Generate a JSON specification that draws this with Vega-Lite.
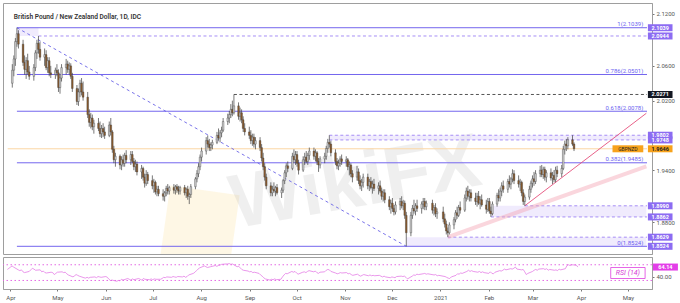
{
"$schema":"https://vega.github.io/schema/vega-lite/v6.json",
"padding":{"left":2,"top":2,"right":0,"bottom":0},
"background":"white",
"spacing":3,
"bounds":"flush",
"config":{"concat":{"spacing":3},"view":{"stroke":"#9e9e9e","strokeWidth":1},"font":"Roboto","axis":{"grid":false,"labelFont":"Roboto","labelFontSize":6,"labelColor":"#555","tickColor":"#777","tickSize":2,"domainColor":"#9e9e9e","labelPadding":2,"labelOverlap":false}},
"resolve":{"scale":{"x":"independent","y":"independent"}},
"datasets":{
"px":[
{"d":"2020-03-30","o":2.040,"h":2.062,"l":2.035,"c":2.055,"r":58},
{"d":"2020-03-31","o":2.055,"h":2.072,"l":2.048,"c":2.068,"r":61},
{"d":"2020-04-01","o":2.068,"h":2.092,"l":2.060,"c":2.088,"r":64},
{"d":"2020-04-02","o":2.088,"h":2.1039,"l":2.082,"c":2.097,"r":67},
{"d":"2020-04-03","o":2.097,"h":2.101,"l":2.080,"c":2.085,"r":64},
{"d":"2020-04-06","o":2.085,"h":2.090,"l":2.060,"c":2.064,"r":57},
{"d":"2020-04-07","o":2.064,"h":2.072,"l":2.050,"c":2.056,"r":55},
{"d":"2020-04-08","o":2.056,"h":2.070,"l":2.045,"c":2.066,"r":57},
{"d":"2020-04-09","o":2.066,"h":2.074,"l":2.050,"c":2.053,"r":52},
{"d":"2020-04-10","o":2.053,"h":2.060,"l":2.044,"c":2.048,"r":50},
{"d":"2020-04-13","o":2.048,"h":2.062,"l":2.043,"c":2.058,"r":53},
{"d":"2020-04-14","o":2.058,"h":2.078,"l":2.054,"c":2.075,"r":57},
{"d":"2020-04-15","o":2.075,"h":2.090,"l":2.068,"c":2.086,"r":61},
{"d":"2020-04-16","o":2.086,"h":2.0944,"l":2.074,"c":2.079,"r":59},
{"d":"2020-04-17","o":2.079,"h":2.088,"l":2.066,"c":2.070,"r":56},
{"d":"2020-04-20","o":2.070,"h":2.080,"l":2.060,"c":2.073,"r":57},
{"d":"2020-04-21","o":2.073,"h":2.078,"l":2.055,"c":2.058,"r":52},
{"d":"2020-04-22","o":2.058,"h":2.070,"l":2.052,"c":2.066,"r":54},
{"d":"2020-04-23","o":2.066,"h":2.070,"l":2.048,"c":2.052,"r":50},
{"d":"2020-04-24","o":2.052,"h":2.060,"l":2.046,"c":2.050,"r":49},
{"d":"2020-04-27","o":2.050,"h":2.058,"l":2.045,"c":2.055,"r":51},
{"d":"2020-04-28","o":2.055,"h":2.062,"l":2.048,"c":2.052,"r":50},
{"d":"2020-04-29","o":2.052,"h":2.056,"l":2.030,"c":2.035,"r":45},
{"d":"2020-04-30","o":2.035,"h":2.050,"l":2.028,"c":2.046,"r":48},
{"d":"2020-05-01","o":2.046,"h":2.062,"l":2.042,"c":2.058,"r":51},
{"d":"2020-05-04","o":2.058,"h":2.068,"l":2.050,"c":2.062,"r":52},
{"d":"2020-05-05","o":2.062,"h":2.066,"l":2.052,"c":2.056,"r":50},
{"d":"2020-05-06","o":2.056,"h":2.064,"l":2.050,"c":2.060,"r":51},
{"d":"2020-05-07","o":2.060,"h":2.063,"l":2.045,"c":2.048,"r":47},
{"d":"2020-05-08","o":2.048,"h":2.052,"l":2.030,"c":2.034,"r":44},
{"d":"2020-05-11","o":2.034,"h":2.038,"l":2.015,"c":2.019,"r":39},
{"d":"2020-05-12","o":2.019,"h":2.034,"l":2.014,"c":2.030,"r":42},
{"d":"2020-05-13","o":2.030,"h":2.044,"l":2.024,"c":2.040,"r":45},
{"d":"2020-05-14","o":2.040,"h":2.046,"l":2.026,"c":2.030,"r":43},
{"d":"2020-05-15","o":2.030,"h":2.042,"l":2.020,"c":2.024,"r":41},
{"d":"2020-05-18","o":2.024,"h":2.030,"l":2.000,"c":2.004,"r":37},
{"d":"2020-05-19","o":2.004,"h":2.010,"l":1.990,"c":1.995,"r":36},
{"d":"2020-05-20","o":1.995,"h":2.006,"l":1.988,"c":2.000,"r":38},
{"d":"2020-05-21","o":2.000,"h":2.004,"l":1.986,"c":1.990,"r":36},
{"d":"2020-05-22","o":1.990,"h":1.998,"l":1.982,"c":1.994,"r":38},
{"d":"2020-05-25","o":1.994,"h":2.000,"l":1.985,"c":1.988,"r":39},
{"d":"2020-05-26","o":1.988,"h":1.996,"l":1.978,"c":1.982,"r":37},
{"d":"2020-05-27","o":1.982,"h":1.992,"l":1.977,"c":1.988,"r":40},
{"d":"2020-05-28","o":1.988,"h":1.994,"l":1.978,"c":1.984,"r":39},
{"d":"2020-05-29","o":1.984,"h":1.990,"l":1.976,"c":1.980,"r":38},
{"d":"2020-06-01","o":1.980,"h":1.996,"l":1.978,"c":1.992,"r":40},
{"d":"2020-06-02","o":1.992,"h":2.000,"l":1.980,"c":1.984,"r":38},
{"d":"2020-06-03","o":1.984,"h":1.986,"l":1.960,"c":1.964,"r":33},
{"d":"2020-06-04","o":1.964,"h":1.968,"l":1.948,"c":1.952,"r":30},
{"d":"2020-06-05","o":1.952,"h":1.960,"l":1.944,"c":1.956,"r":31},
{"d":"2020-06-08","o":1.956,"h":1.958,"l":1.941,"c":1.946,"r":28},
{"d":"2020-06-09","o":1.946,"h":1.956,"l":1.940,"c":1.952,"r":30},
{"d":"2020-06-10","o":1.952,"h":1.958,"l":1.944,"c":1.948,"r":29},
{"d":"2020-06-11","o":1.948,"h":1.960,"l":1.944,"c":1.957,"r":33},
{"d":"2020-06-12","o":1.957,"h":1.963,"l":1.948,"c":1.952,"r":31},
{"d":"2020-06-15","o":1.952,"h":1.962,"l":1.946,"c":1.958,"r":35},
{"d":"2020-06-16","o":1.958,"h":1.962,"l":1.948,"c":1.950,"r":33},
{"d":"2020-06-17","o":1.950,"h":1.954,"l":1.940,"c":1.944,"r":31},
{"d":"2020-06-18","o":1.944,"h":1.952,"l":1.938,"c":1.947,"r":34},
{"d":"2020-06-19","o":1.947,"h":1.950,"l":1.934,"c":1.938,"r":32},
{"d":"2020-06-22","o":1.938,"h":1.946,"l":1.930,"c":1.942,"r":35},
{"d":"2020-06-23","o":1.942,"h":1.944,"l":1.928,"c":1.932,"r":33},
{"d":"2020-06-24","o":1.932,"h":1.936,"l":1.920,"c":1.925,"r":31},
{"d":"2020-06-25","o":1.925,"h":1.940,"l":1.922,"c":1.935,"r":35},
{"d":"2020-06-26","o":1.935,"h":1.938,"l":1.924,"c":1.928,"r":33},
{"d":"2020-06-29","o":1.928,"h":1.934,"l":1.918,"c":1.922,"r":32},
{"d":"2020-06-30","o":1.922,"h":1.930,"l":1.914,"c":1.926,"r":34},
{"d":"2020-07-01","o":1.926,"h":1.928,"l":1.912,"c":1.915,"r":32},
{"d":"2020-07-02","o":1.915,"h":1.922,"l":1.910,"c":1.918,"r":34},
{"d":"2020-07-03","o":1.918,"h":1.922,"l":1.910,"c":1.913,"r":33},
{"d":"2020-07-06","o":1.913,"h":1.918,"l":1.905,"c":1.910,"r":33},
{"d":"2020-07-07","o":1.910,"h":1.916,"l":1.904,"c":1.914,"r":35},
{"d":"2020-07-08","o":1.914,"h":1.922,"l":1.910,"c":1.919,"r":38},
{"d":"2020-07-09","o":1.919,"h":1.924,"l":1.912,"c":1.916,"r":37},
{"d":"2020-07-10","o":1.916,"h":1.922,"l":1.912,"c":1.920,"r":39},
{"d":"2020-07-13","o":1.920,"h":1.924,"l":1.913,"c":1.917,"r":38},
{"d":"2020-07-14","o":1.917,"h":1.923,"l":1.912,"c":1.921,"r":40},
{"d":"2020-07-15","o":1.921,"h":1.924,"l":1.914,"c":1.918,"r":39},
{"d":"2020-07-16","o":1.918,"h":1.922,"l":1.912,"c":1.916,"r":38},
{"d":"2020-07-17","o":1.916,"h":1.922,"l":1.912,"c":1.920,"r":40},
{"d":"2020-07-20","o":1.920,"h":1.923,"l":1.911,"c":1.914,"r":39},
{"d":"2020-07-21","o":1.914,"h":1.920,"l":1.908,"c":1.918,"r":41},
{"d":"2020-07-22","o":1.918,"h":1.922,"l":1.906,"c":1.910,"r":38},
{"d":"2020-07-23","o":1.910,"h":1.914,"l":1.901,"c":1.912,"r":40},
{"d":"2020-07-24","o":1.912,"h":1.924,"l":1.908,"c":1.921,"r":44},
{"d":"2020-07-27","o":1.921,"h":1.932,"l":1.918,"c":1.930,"r":48},
{"d":"2020-07-28","o":1.930,"h":1.940,"l":1.926,"c":1.936,"r":51},
{"d":"2020-07-29","o":1.936,"h":1.948,"l":1.932,"c":1.944,"r":55},
{"d":"2020-07-30","o":1.944,"h":1.958,"l":1.940,"c":1.955,"r":59},
{"d":"2020-07-31","o":1.955,"h":1.966,"l":1.950,"c":1.962,"r":62},
{"d":"2020-08-03","o":1.962,"h":1.978,"l":1.958,"c":1.974,"r":67},
{"d":"2020-08-04","o":1.974,"h":1.980,"l":1.966,"c":1.970,"r":65},
{"d":"2020-08-05","o":1.970,"h":1.976,"l":1.962,"c":1.966,"r":63},
{"d":"2020-08-06","o":1.966,"h":1.972,"l":1.962,"c":1.969,"r":64},
{"d":"2020-08-07","o":1.969,"h":1.975,"l":1.964,"c":1.972,"r":65},
{"d":"2020-08-10","o":1.972,"h":1.984,"l":1.970,"c":1.980,"r":68},
{"d":"2020-08-11","o":1.980,"h":1.988,"l":1.974,"c":1.977,"r":66},
{"d":"2020-08-12","o":1.977,"h":1.986,"l":1.972,"c":1.983,"r":68},
{"d":"2020-08-13","o":1.983,"h":1.990,"l":1.978,"c":1.986,"r":69},
{"d":"2020-08-14","o":1.986,"h":2.000,"l":1.984,"c":1.996,"r":71},
{"d":"2020-08-17","o":1.996,"h":2.005,"l":1.992,"c":2.000,"r":72},
{"d":"2020-08-18","o":2.000,"h":2.008,"l":1.994,"c":2.004,"r":72},
{"d":"2020-08-19","o":2.004,"h":2.016,"l":2.000,"c":2.010,"r":73},
{"d":"2020-08-20","o":2.010,"h":2.020,"l":2.002,"c":2.006,"r":71},
{"d":"2020-08-21","o":2.006,"h":2.0271,"l":2.004,"c":2.014,"r":72},
{"d":"2020-08-24","o":2.014,"h":2.018,"l":1.998,"c":2.002,"r":65},
{"d":"2020-08-25","o":2.002,"h":2.012,"l":1.996,"c":2.006,"r":66},
{"d":"2020-08-26","o":2.006,"h":2.010,"l":1.994,"c":1.998,"r":62},
{"d":"2020-08-27","o":1.998,"h":2.002,"l":1.984,"c":1.988,"r":58},
{"d":"2020-08-28","o":1.988,"h":1.994,"l":1.980,"c":1.984,"r":56},
{"d":"2020-08-31","o":1.984,"h":1.990,"l":1.976,"c":1.980,"r":54},
{"d":"2020-09-01","o":1.980,"h":1.986,"l":1.970,"c":1.974,"r":52},
{"d":"2020-09-02","o":1.974,"h":1.982,"l":1.968,"c":1.978,"r":53},
{"d":"2020-09-03","o":1.978,"h":1.982,"l":1.966,"c":1.970,"r":50},
{"d":"2020-09-04","o":1.970,"h":1.978,"l":1.964,"c":1.974,"r":51},
{"d":"2020-09-07","o":1.974,"h":1.978,"l":1.962,"c":1.966,"r":48},
{"d":"2020-09-08","o":1.966,"h":1.970,"l":1.950,"c":1.954,"r":44},
{"d":"2020-09-09","o":1.954,"h":1.960,"l":1.940,"c":1.944,"r":41},
{"d":"2020-09-10","o":1.944,"h":1.948,"l":1.928,"c":1.932,"r":37},
{"d":"2020-09-11","o":1.932,"h":1.936,"l":1.918,"c":1.922,"r":34},
{"d":"2020-09-14","o":1.922,"h":1.926,"l":1.910,"c":1.914,"r":31},
{"d":"2020-09-15","o":1.914,"h":1.922,"l":1.910,"c":1.918,"r":33},
{"d":"2020-09-16","o":1.918,"h":1.926,"l":1.914,"c":1.916,"r":32},
{"d":"2020-09-17","o":1.916,"h":1.922,"l":1.910,"c":1.920,"r":34},
{"d":"2020-09-18","o":1.920,"h":1.924,"l":1.912,"c":1.914,"r":32},
{"d":"2020-09-21","o":1.914,"h":1.920,"l":1.908,"c":1.917,"r":33},
{"d":"2020-09-22","o":1.917,"h":1.930,"l":1.914,"c":1.928,"r":39},
{"d":"2020-09-23","o":1.928,"h":1.940,"l":1.924,"c":1.937,"r":44},
{"d":"2020-09-24","o":1.937,"h":1.948,"l":1.932,"c":1.945,"r":48},
{"d":"2020-09-25","o":1.945,"h":1.950,"l":1.938,"c":1.942,"r":47},
{"d":"2020-09-28","o":1.942,"h":1.960,"l":1.940,"c":1.956,"r":53},
{"d":"2020-09-29","o":1.956,"h":1.964,"l":1.948,"c":1.952,"r":51},
{"d":"2020-09-30","o":1.952,"h":1.962,"l":1.946,"c":1.958,"r":53},
{"d":"2020-10-01","o":1.958,"h":1.962,"l":1.944,"c":1.948,"r":49},
{"d":"2020-10-02","o":1.948,"h":1.952,"l":1.935,"c":1.940,"r":46},
{"d":"2020-10-05","o":1.940,"h":1.956,"l":1.938,"c":1.952,"r":51},
{"d":"2020-10-06","o":1.952,"h":1.960,"l":1.946,"c":1.955,"r":52},
{"d":"2020-10-07","o":1.955,"h":1.962,"l":1.948,"c":1.950,"r":50},
{"d":"2020-10-08","o":1.950,"h":1.960,"l":1.946,"c":1.957,"r":53},
{"d":"2020-10-09","o":1.957,"h":1.966,"l":1.952,"c":1.962,"r":55},
{"d":"2020-10-12","o":1.962,"h":1.966,"l":1.952,"c":1.956,"r":52},
{"d":"2020-10-13","o":1.956,"h":1.964,"l":1.950,"c":1.960,"r":54},
{"d":"2020-10-14","o":1.960,"h":1.962,"l":1.946,"c":1.950,"r":50},
{"d":"2020-10-15","o":1.950,"h":1.954,"l":1.938,"c":1.946,"r":48},
{"d":"2020-10-16","o":1.946,"h":1.956,"l":1.942,"c":1.953,"r":51},
{"d":"2020-10-19","o":1.953,"h":1.960,"l":1.948,"c":1.956,"r":52},
{"d":"2020-10-20","o":1.956,"h":1.968,"l":1.952,"c":1.965,"r":56},
{"d":"2020-10-21","o":1.965,"h":1.976,"l":1.960,"c":1.972,"r":58},
{"d":"2020-10-22","o":1.972,"h":1.9802,"l":1.966,"c":1.970,"r":57},
{"d":"2020-10-23","o":1.970,"h":1.974,"l":1.956,"c":1.960,"r":53},
{"d":"2020-10-26","o":1.960,"h":1.964,"l":1.946,"c":1.950,"r":49},
{"d":"2020-10-27","o":1.950,"h":1.954,"l":1.941,"c":1.945,"r":47},
{"d":"2020-10-28","o":1.945,"h":1.952,"l":1.940,"c":1.948,"r":48},
{"d":"2020-10-29","o":1.948,"h":1.956,"l":1.944,"c":1.953,"r":50},
{"d":"2020-10-30","o":1.953,"h":1.958,"l":1.946,"c":1.950,"r":49},
{"d":"2020-11-02","o":1.950,"h":1.956,"l":1.944,"c":1.952,"r":50},
{"d":"2020-11-03","o":1.952,"h":1.954,"l":1.940,"c":1.944,"r":47},
{"d":"2020-11-04","o":1.944,"h":1.950,"l":1.934,"c":1.946,"r":48},
{"d":"2020-11-05","o":1.946,"h":1.948,"l":1.932,"c":1.936,"r":45},
{"d":"2020-11-06","o":1.936,"h":1.940,"l":1.926,"c":1.932,"r":43},
{"d":"2020-11-09","o":1.932,"h":1.945,"l":1.928,"c":1.938,"r":46},
{"d":"2020-11-10","o":1.938,"h":1.942,"l":1.924,"c":1.928,"r":43},
{"d":"2020-11-11","o":1.928,"h":1.934,"l":1.918,"c":1.922,"r":41},
{"d":"2020-11-12","o":1.922,"h":1.930,"l":1.916,"c":1.926,"r":43},
{"d":"2020-11-13","o":1.926,"h":1.936,"l":1.920,"c":1.932,"r":45},
{"d":"2020-11-16","o":1.932,"h":1.936,"l":1.918,"c":1.922,"r":42},
{"d":"2020-11-17","o":1.922,"h":1.930,"l":1.916,"c":1.927,"r":44},
{"d":"2020-11-18","o":1.927,"h":1.932,"l":1.918,"c":1.920,"r":42},
{"d":"2020-11-19","o":1.920,"h":1.928,"l":1.913,"c":1.924,"r":43},
{"d":"2020-11-20","o":1.924,"h":1.930,"l":1.916,"c":1.919,"r":42},
{"d":"2020-11-23","o":1.919,"h":1.926,"l":1.912,"c":1.922,"r":43},
{"d":"2020-11-24","o":1.922,"h":1.928,"l":1.914,"c":1.916,"r":41},
{"d":"2020-11-25","o":1.916,"h":1.920,"l":1.906,"c":1.910,"r":39},
{"d":"2020-11-26","o":1.910,"h":1.918,"l":1.904,"c":1.914,"r":41},
{"d":"2020-11-27","o":1.914,"h":1.918,"l":1.902,"c":1.906,"r":39},
{"d":"2020-11-30","o":1.906,"h":1.910,"l":1.894,"c":1.898,"r":37},
{"d":"2020-12-01","o":1.898,"h":1.906,"l":1.890,"c":1.902,"r":39},
{"d":"2020-12-02","o":1.902,"h":1.908,"l":1.892,"c":1.896,"r":38},
{"d":"2020-12-03","o":1.896,"h":1.900,"l":1.888,"c":1.892,"r":37},
{"d":"2020-12-04","o":1.892,"h":1.904,"l":1.889,"c":1.900,"r":40},
{"d":"2020-12-07","o":1.900,"h":1.908,"l":1.894,"c":1.904,"r":41},
{"d":"2020-12-08","o":1.904,"h":1.910,"l":1.896,"c":1.899,"r":40},
{"d":"2020-12-09","o":1.899,"h":1.906,"l":1.894,"c":1.902,"r":41},
{"d":"2020-12-10","o":1.902,"h":1.905,"l":1.884,"c":1.888,"r":38},
{"d":"2020-12-11","o":1.888,"h":1.892,"l":1.8524,"c":1.868,"r":34},
{"d":"2020-12-14","o":1.868,"h":1.892,"l":1.864,"c":1.888,"r":41},
{"d":"2020-12-15","o":1.888,"h":1.900,"l":1.884,"c":1.896,"r":44},
{"d":"2020-12-16","o":1.896,"h":1.906,"l":1.890,"c":1.893,"r":43},
{"d":"2020-12-17","o":1.893,"h":1.902,"l":1.888,"c":1.899,"r":46},
{"d":"2020-12-18","o":1.899,"h":1.906,"l":1.892,"c":1.896,"r":45},
{"d":"2020-12-21","o":1.896,"h":1.904,"l":1.890,"c":1.901,"r":47},
{"d":"2020-12-22","o":1.901,"h":1.908,"l":1.895,"c":1.904,"r":48},
{"d":"2020-12-23","o":1.904,"h":1.908,"l":1.894,"c":1.898,"r":46},
{"d":"2020-12-24","o":1.898,"h":1.905,"l":1.894,"c":1.902,"r":47},
{"d":"2020-12-28","o":1.902,"h":1.906,"l":1.890,"c":1.894,"r":44},
{"d":"2020-12-29","o":1.894,"h":1.900,"l":1.888,"c":1.897,"r":45},
{"d":"2020-12-30","o":1.897,"h":1.902,"l":1.886,"c":1.890,"r":42},
{"d":"2020-12-31","o":1.890,"h":1.896,"l":1.884,"c":1.892,"r":43},
{"d":"2021-01-04","o":1.892,"h":1.898,"l":1.880,"c":1.884,"r":40},
{"d":"2021-01-05","o":1.884,"h":1.890,"l":1.874,"c":1.878,"r":38},
{"d":"2021-01-06","o":1.878,"h":1.882,"l":1.866,"c":1.870,"r":36},
{"d":"2021-01-07","o":1.870,"h":1.874,"l":1.8629,"c":1.868,"r":35},
{"d":"2021-01-08","o":1.868,"h":1.880,"l":1.866,"c":1.877,"r":39},
{"d":"2021-01-11","o":1.877,"h":1.886,"l":1.872,"c":1.883,"r":43},
{"d":"2021-01-12","o":1.883,"h":1.894,"l":1.880,"c":1.891,"r":47},
{"d":"2021-01-13","o":1.891,"h":1.898,"l":1.884,"c":1.888,"r":46},
{"d":"2021-01-14","o":1.888,"h":1.900,"l":1.886,"c":1.897,"r":49},
{"d":"2021-01-15","o":1.897,"h":1.904,"l":1.890,"c":1.894,"r":48},
{"d":"2021-01-18","o":1.894,"h":1.912,"l":1.892,"c":1.908,"r":53},
{"d":"2021-01-19","o":1.908,"h":1.920,"l":1.904,"c":1.916,"r":56},
{"d":"2021-01-20","o":1.916,"h":1.922,"l":1.906,"c":1.910,"r":53},
{"d":"2021-01-21","o":1.910,"h":1.918,"l":1.904,"c":1.914,"r":55},
{"d":"2021-01-22","o":1.914,"h":1.918,"l":1.904,"c":1.908,"r":53},
{"d":"2021-01-25","o":1.908,"h":1.914,"l":1.900,"c":1.904,"r":51},
{"d":"2021-01-26","o":1.904,"h":1.914,"l":1.898,"c":1.910,"r":53},
{"d":"2021-01-27","o":1.910,"h":1.916,"l":1.900,"c":1.902,"r":50},
{"d":"2021-01-28","o":1.902,"h":1.910,"l":1.895,"c":1.906,"r":52},
{"d":"2021-01-29","o":1.906,"h":1.912,"l":1.898,"c":1.900,"r":50},
{"d":"2021-02-01","o":1.900,"h":1.906,"l":1.890,"c":1.895,"r":48},
{"d":"2021-02-02","o":1.895,"h":1.908,"l":1.892,"c":1.904,"r":52},
{"d":"2021-02-03","o":1.904,"h":1.908,"l":1.890,"c":1.893,"r":48},
{"d":"2021-02-04","o":1.893,"h":1.898,"l":1.8862,"c":1.890,"r":47},
{"d":"2021-02-05","o":1.890,"h":1.904,"l":1.888,"c":1.901,"r":51},
{"d":"2021-02-08","o":1.901,"h":1.914,"l":1.898,"c":1.911,"r":55},
{"d":"2021-02-09","o":1.911,"h":1.918,"l":1.904,"c":1.908,"r":54},
{"d":"2021-02-10","o":1.908,"h":1.920,"l":1.904,"c":1.916,"r":56},
{"d":"2021-02-11","o":1.916,"h":1.926,"l":1.910,"c":1.922,"r":59},
{"d":"2021-02-12","o":1.922,"h":1.928,"l":1.914,"c":1.918,"r":57},
{"d":"2021-02-15","o":1.918,"h":1.930,"l":1.914,"c":1.927,"r":60},
{"d":"2021-02-16","o":1.927,"h":1.934,"l":1.920,"c":1.924,"r":59},
{"d":"2021-02-17","o":1.924,"h":1.932,"l":1.918,"c":1.930,"r":61},
{"d":"2021-02-18","o":1.930,"h":1.941,"l":1.926,"c":1.936,"r":64},
{"d":"2021-02-19","o":1.936,"h":1.940,"l":1.924,"c":1.928,"r":59},
{"d":"2021-02-22","o":1.928,"h":1.934,"l":1.920,"c":1.924,"r":57},
{"d":"2021-02-23","o":1.924,"h":1.930,"l":1.916,"c":1.926,"r":58},
{"d":"2021-02-24","o":1.926,"h":1.928,"l":1.910,"c":1.914,"r":52},
{"d":"2021-02-25","o":1.914,"h":1.918,"l":1.900,"c":1.904,"r":45},
{"d":"2021-02-26","o":1.904,"h":1.912,"l":1.899,"c":1.909,"r":48},
{"d":"2021-03-01","o":1.909,"h":1.922,"l":1.906,"c":1.918,"r":53},
{"d":"2021-03-02","o":1.918,"h":1.928,"l":1.914,"c":1.925,"r":56},
{"d":"2021-03-03","o":1.925,"h":1.934,"l":1.920,"c":1.930,"r":58},
{"d":"2021-03-04","o":1.930,"h":1.938,"l":1.922,"c":1.927,"r":56},
{"d":"2021-03-05","o":1.927,"h":1.940,"l":1.924,"c":1.936,"r":59},
{"d":"2021-03-08","o":1.936,"h":1.945,"l":1.932,"c":1.940,"r":60},
{"d":"2021-03-09","o":1.940,"h":1.946,"l":1.932,"c":1.935,"r":58},
{"d":"2021-03-10","o":1.935,"h":1.944,"l":1.930,"c":1.941,"r":60},
{"d":"2021-03-11","o":1.941,"h":1.944,"l":1.928,"c":1.932,"r":56},
{"d":"2021-03-12","o":1.932,"h":1.940,"l":1.926,"c":1.937,"r":58},
{"d":"2021-03-15","o":1.937,"h":1.942,"l":1.928,"c":1.931,"r":56},
{"d":"2021-03-16","o":1.931,"h":1.938,"l":1.924,"c":1.934,"r":57},
{"d":"2021-03-17","o":1.934,"h":1.940,"l":1.926,"c":1.929,"r":55},
{"d":"2021-03-18","o":1.929,"h":1.944,"l":1.926,"c":1.940,"r":59},
{"d":"2021-03-19","o":1.940,"h":1.945,"l":1.932,"c":1.936,"r":57},
{"d":"2021-03-22","o":1.936,"h":1.946,"l":1.932,"c":1.942,"r":60},
{"d":"2021-03-23","o":1.942,"h":1.968,"l":1.940,"c":1.964,"r":68},
{"d":"2021-03-24","o":1.964,"h":1.974,"l":1.958,"c":1.970,"r":70},
{"d":"2021-03-25","o":1.970,"h":1.976,"l":1.962,"c":1.968,"r":68},
{"d":"2021-03-26","o":1.968,"h":1.978,"l":1.964,"c":1.975,"r":70},
{"d":"2021-03-29","o":1.975,"h":1.9802,"l":1.968,"c":1.970,"r":69},
{"d":"2021-03-30","o":1.970,"h":1.972,"l":1.962,"c":1.9646,"r":64.14}
],
"lv":[
{"s":"2020-04-02","v":2.1039,"g":"fib","t":"1(2.1039)"},
{"s":"2020-04-02","v":2.0501,"g":"fib","t":"0.786(2.0501)"},
{"s":"2020-04-02","v":2.0078,"g":"fib","t":"0.618(2.0078)"},
{"s":"2020-04-02","v":1.9485,"g":"fib","t":"0.382(1.9485)"},
{"s":"2020-04-02","v":1.8524,"g":"fib","t":"0(1.8524)"},
{"s":"2020-04-16","v":2.0944,"g":"pd"},
{"s":"2020-10-22","v":1.9802,"g":"pd"},
{"s":"2020-10-22","v":1.9748,"g":"pd"},
{"s":"2021-02-26","v":1.8990,"g":"pd"},
{"s":"2021-02-04","v":1.8862,"g":"pd"},
{"s":"2021-01-07","v":1.8629,"g":"pd"},
{"s":"2020-08-21","v":2.0271,"g":"gd"},
{"s":"2020-03-27","v":1.9646,"g":"cur"}
],
"bd":[
{"s":"2020-04-02","e":"2020-04-16","a":2.0944,"b":2.1039},
{"s":"2020-10-22","e":"2021-05-16","a":1.9748,"b":1.9802},
{"s":"2021-02-04","e":"2021-05-16","a":1.8862,"b":1.8990},
{"s":"2020-12-11","e":"2021-05-16","a":1.8524,"b":1.8629}
],
"tl":[
{"g":"down","d":"2020-04-02","v":2.1039},
{"g":"down","d":"2020-12-11","v":1.8524},
{"g":"up","d":"2021-02-26","v":1.8990},
{"g":"up","d":"2021-05-16","v":2.0055},
{"g":"band","d":"2021-01-07","v":1.8629},
{"g":"band","d":"2021-05-16","v":1.9445}
],
"tg":[
{"v":2.1039,"t":"2.1039","k":"p"},
{"v":2.0944,"t":"2.0944","k":"p"},
{"v":2.0271,"t":"2.0271","k":"b"},
{"v":1.9802,"t":"1.9802","k":"p"},
{"v":1.9748,"t":"1.9748","k":"p"},
{"v":1.9646,"t":"1.9646","k":"o"},
{"v":1.8990,"t":"1.8990","k":"p"},
{"v":1.8862,"t":"1.8862","k":"p"},
{"v":1.8629,"t":"1.8629","k":"p"},
{"v":1.8524,"t":"1.8524","k":"p"}
]
},
"vconcat":[
{
"width":649,"height":251,
"layer":[
{"data":{"name":"px"},"mark":{"type":"rule","opacity":0},
 "encoding":{"x":{"field":"d","type":"temporal","axis":null,"scale":{"domain":[{"year":2020,"month":3,"date":27,"hours":5},{"year":2021,"month":5,"date":16,"hours":10}],"nice":false}},
  "y":{"field":"l","type":"quantitative","scale":{"domain":[1.8493,2.1266],"nice":false,"zero":false},"axis":{"orient":"right","values":[2.12,2.08,2.06,2.04,2.02,2.0,1.94,1.92,1.88],"format":".4f","title":null,"labelOverlap":false,"labelBound":false,"labelFlush":false}},"y2":{"field":"h"}}},
{"data":{"values":[{"n":"logo"}]},"mark":{"type":"point","shape":"square","filled":true,"size":4900,"angle":8,"color":"#fbe7b5","opacity":0.35,"clip":true},
 "encoding":{"x":{"datum":{"year":2020,"month":7,"date":30},"type":"temporal","axis":null},"y":{"datum":1.877,"type":"quantitative"}}},
{"data":{"values":[{"n":"WikiFX"}]},"mark":{"type":"text","fontSize":76,"fontWeight":"bold","angle":-10,"color":"#9a9a9a","opacity":0.15,"font":"Liberation Sans","clip":true},
 "encoding":{"x":{"datum":{"year":2020,"month":11,"date":8},"type":"temporal","axis":null},"y":{"datum":1.9244,"type":"quantitative"},"text":{"field":"n"}}},
{"data":{"name":"bd"},"mark":{"type":"rect","color":"#e6defc","opacity":0.6},
 "encoding":{"x":{"field":"s","type":"temporal","axis":null},"x2":{"field":"e"},"y":{"field":"a","type":"quantitative"},"y2":{"field":"b"}}},
{"data":{"name":"lv"},"transform":[{"filter":"datum.g=='cur'"}],"mark":{"type":"rule","color":"#fbd6a4","strokeWidth":1},
 "encoding":{"x":{"field":"s","type":"temporal","axis":null},"x2":{"datum":{"year":2021,"month":5,"date":16,"hours":10}},"y":{"field":"v","type":"quantitative"}}},
{"data":{"name":"lv"},"transform":[{"filter":"datum.g=='fib'"}],"mark":{"type":"rule","color":"#7466ee","strokeWidth":1},
 "encoding":{"x":{"field":"s","type":"temporal","axis":null},"x2":{"datum":{"year":2021,"month":5,"date":16,"hours":10}},"y":{"field":"v","type":"quantitative"}}},
{"data":{"name":"lv"},"transform":[{"filter":"datum.g=='pd'"}],"mark":{"type":"rule","color":"#a68ef5","strokeWidth":1,"strokeDash":[3,2.5]},
 "encoding":{"x":{"field":"s","type":"temporal","axis":null},"x2":{"datum":{"year":2021,"month":5,"date":16,"hours":10}},"y":{"field":"v","type":"quantitative"}}},
{"data":{"name":"lv"},"transform":[{"filter":"datum.g=='gd'"}],"mark":{"type":"rule","color":"#555555","strokeWidth":1,"strokeDash":[3,2.5]},
 "encoding":{"x":{"field":"s","type":"temporal","axis":null},"x2":{"datum":{"year":2021,"month":5,"date":16,"hours":10}},"y":{"field":"v","type":"quantitative"}}},
{"data":{"name":"tl"},"transform":[{"filter":"datum.g=='band'"}],"mark":{"type":"line","color":"#f4a3b4","strokeWidth":4,"opacity":0.45},
 "encoding":{"x":{"field":"d","type":"temporal","axis":null},"y":{"field":"v","type":"quantitative"}}},
{"data":{"name":"tl"},"transform":[{"filter":"datum.g=='up'"}],"mark":{"type":"line","color":"#e5507c","strokeWidth":0.9},
 "encoding":{"x":{"field":"d","type":"temporal","axis":null},"y":{"field":"v","type":"quantitative"}}},
{"data":{"name":"tl"},"transform":[{"filter":"datum.g=='down'"}],"mark":{"type":"line","color":"#6a63e6","strokeWidth":0.9,"strokeDash":[3,3]},
 "encoding":{"x":{"field":"d","type":"temporal","axis":null},"y":{"field":"v","type":"quantitative"}}},
{"data":{"name":"px"},"mark":{"type":"rule","color":"#3d3d3d","strokeWidth":0.7},
 "encoding":{"x":{"field":"d","type":"temporal","axis":null},"y":{"field":"l","type":"quantitative"},"y2":{"field":"h"}}},
{"data":{"name":"px"},"mark":{"type":"bar","width":1.7,"stroke":"#3a3a3a","strokeWidth":0.35},
 "encoding":{"x":{"field":"d","type":"temporal","axis":null},"y":{"field":"o","type":"quantitative"},"y2":{"field":"c"},
  "fill":{"condition":{"test":"datum.c >= datum.o","value":"#cfcfcf"},"value":"#8a5a2c"}}},
{"data":{"name":"lv"},"transform":[{"filter":"datum.g=='fib'"}],"mark":{"type":"text","align":"right","baseline":"bottom","dy":-0.5,"fontSize":6,"color":"#6c5ff0"},
 "encoding":{"x":{"datum":{"year":2021,"month":5,"date":14},"type":"temporal","axis":null},"y":{"field":"v","type":"quantitative"},"text":{"field":"t"}}},
{"data":{"values":[{"t":"GBPNZD"}]},"mark":{"type":"bar","height":7,"color":"#f7a21b"},
 "encoding":{"x":{"datum":{"year":2021,"month":4,"date":24},"type":"temporal","axis":null},"x2":{"datum":{"year":2021,"month":5,"date":14}},"y":{"datum":1.9646,"type":"quantitative"}}},
{"data":{"values":[{"t":"GBPNZD"}]},"mark":{"type":"text","fontSize":5,"color":"#222"},
 "encoding":{"x":{"datum":{"year":2021,"month":5,"date":4},"type":"temporal","axis":null},"y":{"datum":1.9646,"type":"quantitative"},"text":{"field":"t"}}},
{"data":{"name":"tg"},"mark":{"type":"bar","height":7,"clip":false},
 "encoding":{"x":{"datum":{"year":2021,"month":5,"date":17},"type":"temporal","axis":null},"x2":{"datum":{"year":2021,"month":6,"date":2}},"y":{"field":"v","type":"quantitative"},
  "fill":{"field":"k","type":"nominal","scale":{"domain":["p","b","o"],"range":["#8c6cf2","#131722","#f7a21b"]},"legend":null}}},
{"data":{"name":"tg"},"mark":{"type":"text","fontSize":5.5,"fontWeight":"bold","clip":false},
 "encoding":{"x":{"datum":{"year":2021,"month":5,"date":25},"type":"temporal","axis":null},"y":{"field":"v","type":"quantitative"},"text":{"field":"t"},
  "color":{"condition":{"test":"datum.k=='o'","value":"#222222"},"value":"#ffffff"}}},
{"data":{"values":[{"t":"British Pound / New Zealand Dollar, 1D, IDC"}]},"mark":{"type":"text","align":"left","fontSize":6.6,"fontWeight":600,"color":"#333"},
 "encoding":{"x":{"datum":{"year":2020,"month":3,"date":31},"type":"temporal","axis":null},"y":{"datum":2.1167,"type":"quantitative"},"text":{"field":"t"}}}
]
},
{
"width":649,"height":32,
"layer":[
{"data":{"name":"px"},"mark":{"type":"line","color":"#e57ee6","strokeWidth":0.8},
 "encoding":{"x":{"field":"d","type":"temporal","title":null,"scale":{"domain":[{"year":2020,"month":3,"date":27,"hours":5},{"year":2021,"month":5,"date":16,"hours":10}],"nice":false},
   "axis":{"orient":"bottom","tickCount":{"interval":"month","step":1},"format":"%b","labelExpr":"datum.label == 'Jan' ? timeFormat(datum.value, '%Y') : datum.label","labelPadding":3,"tickSize":2,"labelFontSize":6,"labelColor":"#555","labelOverlap":false,"labelBound":false,"labelFlush":false}},
  "y":{"field":"r","type":"quantitative","scale":{"domain":[21,77],"nice":false,"zero":false},"axis":{"orient":"right","values":[40],"format":".2f","title":null,"labelOverlap":false}}}},
{"data":{"values":[{"v":70},{"v":30}]},"mark":{"type":"rule","color":"#e46ae4","strokeWidth":1,"strokeDash":[1.5,2.5]},
 "encoding":{"y":{"field":"v","type":"quantitative"}}},
{"data":{"values":[{"t":"RSI (14)"}]},"mark":{"type":"bar","height":11,"fill":"white","stroke":"#e040e0","strokeWidth":0.8},
 "encoding":{"x":{"datum":{"year":2021,"month":4,"date":20},"type":"temporal"},"x2":{"datum":{"year":2021,"month":5,"date":12}},"y":{"datum":49,"type":"quantitative"}}},
{"data":{"values":[{"t":"RSI (14)"}]},"mark":{"type":"text","fontSize":7,"fontStyle":"italic","color":"#d63ad6"},
 "encoding":{"x":{"datum":{"year":2021,"month":5,"date":1},"type":"temporal"},"y":{"datum":49,"type":"quantitative"},"text":{"field":"t"}}},
{"data":{"values":[{"t":"64.14"}]},"mark":{"type":"bar","height":7,"clip":false,"color":"#e33ee8"},
 "encoding":{"x":{"datum":{"year":2021,"month":5,"date":17},"type":"temporal"},"x2":{"datum":{"year":2021,"month":6,"date":2}},"y":{"datum":64.14,"type":"quantitative"}}},
{"data":{"values":[{"t":"64.14"}]},"mark":{"type":"text","fontSize":5.5,"fontWeight":"bold","clip":false,"color":"white"},
 "encoding":{"x":{"datum":{"year":2021,"month":5,"date":25},"type":"temporal"},"y":{"datum":64.14,"type":"quantitative"},"text":{"field":"t"}}}
]
}
]
}
